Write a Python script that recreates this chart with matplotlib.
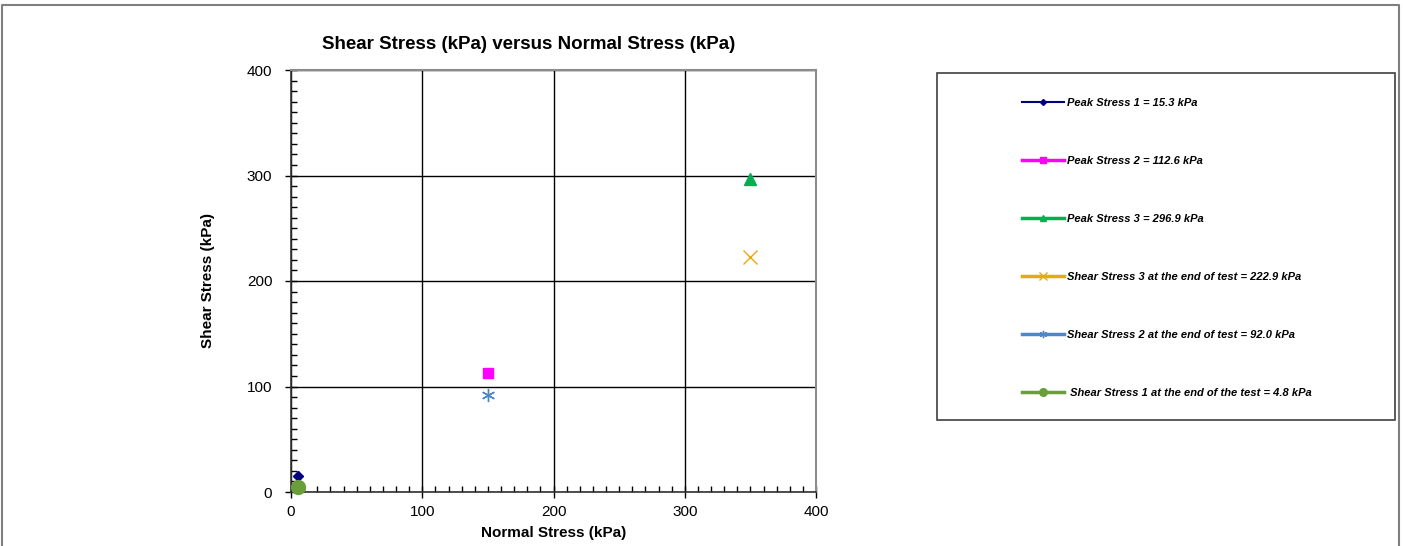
import matplotlib
matplotlib.use("Agg")
import matplotlib.pyplot as plt
from matplotlib.lines import Line2D
from matplotlib.patches import Rectangle
from matplotlib.ticker import MultipleLocator

plt.rcParams['font.family'] = ['Liberation Sans', 'DejaVu Sans']

# Data
labels = ["Peak Stress 1 = 15.3 kPa",
          "Peak Stress 2 = 112.6 kPa",
          "Peak Stress 3 = 296.9 kPa",
          "Shear Stress 3 at the end of test = 222.9 kPa",
          "Shear Stress 2 at the end of test = 92.0 kPa",
          " Shear Stress 1 at the end of the test = 4.8 kPa"]
normal_stress = [5, 150, 350, 350, 150, 5]
shear_stress = [15.3, 112.6, 296.9, 222.9, 92.0, 4.8]
colors = ["#000080", "#FF00FF", "#00B050", "#E8A90E", "#4F86C6", "#6A9E3A"]
markers = ["D", "s", "^", "x", (6, 2, 0), "o"]
msizes = [5.5, 7.5, 8.5, 9.5, 9.5, 10]
lwidths = [1.5, 2.5, 2.5, 2.5, 2.5, 2.5]

W, H = 1403, 546
fig = plt.figure(figsize=(W / 100, H / 100), dpi=100)

ax = fig.add_axes([291 / W, 1 - 492 / H, (816 - 291) / W, (492 - 70) / H])

handles = []
for x, y, c, m, ms, lw, lab in zip(normal_stress, shear_stress, colors, markers, msizes, lwidths, labels):
    h, = ax.plot([x], [y], linestyle='-', color=c, marker=m, markersize=ms,
                 linewidth=lw, markeredgewidth=1.0, label=lab, clip_on=False, zorder=5)
    handles.append(h)

ax.set_xlim(0, 400)
ax.set_ylim(0, 400)
ax.xaxis.set_major_locator(MultipleLocator(100))
ax.yaxis.set_major_locator(MultipleLocator(100))
ax.xaxis.set_minor_locator(MultipleLocator(10))
ax.yaxis.set_minor_locator(MultipleLocator(10))
ax.grid(True, which='major', color='black', linewidth=1.0)
ax.set_axisbelow(True)
ax.tick_params(which='major', direction='inout', length=9, width=1, labelsize=11, color='black', pad=5)
ax.tick_params(axis='y', which='major', pad=9)
ax.tick_params(which='minor', direction='in', length=4, width=1, color='black')
ax.tick_params(top=False, right=False, which='both')
for s in ('left', 'bottom'):
    ax.spines[s].set_color('#333333')
    ax.spines[s].set_linewidth(1.2)
for s in ('top', 'right'):
    ax.spines[s].set_color('#8c8c8c')
    ax.spines[s].set_linewidth(1.5)

ax.set_title("Shear Stress (kPa) versus Normal Stress (kPa)", fontsize=13.5, fontweight='bold',
             pad=15, x=(529 - 291) / (816 - 291))
ax.set_xlabel("Normal Stress (kPa)", fontsize=11, fontweight='bold', labelpad=5)
ax.set_ylabel("Shear Stress (kPa)", fontsize=11, fontweight='bold', labelpad=23)

# Legend box
fig.patches.append(Rectangle((937 / W, 1 - 420 / H), (1395 - 937) / W, (420 - 73) / H,
                             transform=fig.transFigure, fill=False, edgecolor='#404040',
                             linewidth=1.2))
leg = fig.legend(handles=handles, loc='upper left', bbox_to_anchor=(1022 / W, 1 - 98 / H),
                 frameon=False, borderpad=0, borderaxespad=0, numpoints=1,
                 handlelength=3.8, handletextpad=0.27, labelspacing=4.32, markerscale=0.55,
                 prop={'size': 8, 'weight': 'bold', 'style': 'italic'})

# Figure border (top, left, right)
fig.lines.append(Line2D([2 / W, 2 / W, 1399 / W, 1399 / W], [0, 1 - 5 / H, 1 - 5 / H, 0],
                        transform=fig.transFigure, color='#7f7f7f', linewidth=1.5))

fig.savefig("out.png", dpi=100)
